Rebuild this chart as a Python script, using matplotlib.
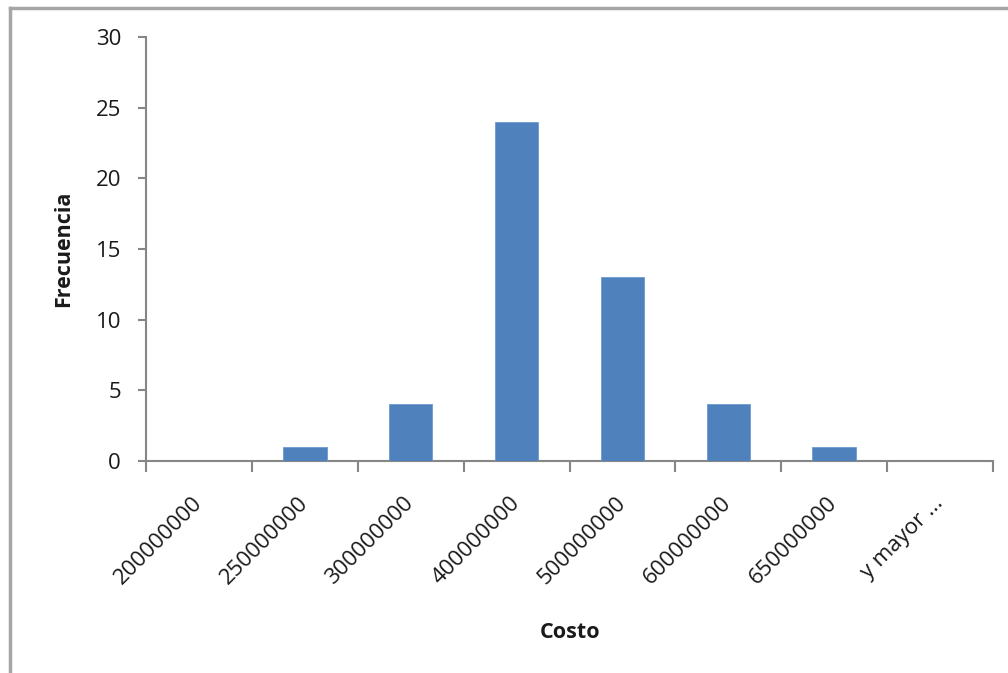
import matplotlib.pyplot as plt
import numpy as np
from matplotlib.lines import Line2D
from matplotlib.transforms import ScaledTranslation

# histogram bins (Excel style) and counts
bins = ["200000000", "250000000", "300000000", "400000000",
        "500000000", "600000000", "650000000", "y mayor ..."]
freq = [0, 1, 4, 24, 13, 4, 1, 0]
yticks = [0, 5, 10, 15, 20, 25, 30]

bar_color = "#4F81BD"
axis_color = "#868686"
text_color = "#1a1a1a"

plt.rcParams['font.family'] = ['Open Sans', 'DejaVu Sans']

fig = plt.figure(figsize=(10.08, 6.73), dpi=100)
ax = fig.add_axes([146 / 1008, 1 - 461 / 673, (993 - 146) / 1008, (461 - 37) / 673])

x = np.arange(len(bins))
ax.bar(x, freq, width=0.41, color=bar_color, edgecolor="#6f9bd0", linewidth=0.6, zorder=3)

ax.set_xlim(-0.5, len(bins) - 0.5)
ax.set_ylim(0, 30)
ax.set_yticks(yticks)
ax.set_yticklabels([str(v) for v in yticks], fontsize=16, color=text_color)

# ticks on category boundaries, labels centered on categories
ax.set_xticks(np.arange(len(bins) + 1) - 0.5)
ax.set_xticklabels([])
ax.set_xticks(x, minor=True)
ax.set_xticklabels(bins, minor=True, rotation=45, ha="right", va="center",
                   rotation_mode="anchor", fontsize=16, color=text_color)
shift = ScaledTranslation(5 / 100, 0, fig.dpi_scale_trans)
for lbl in ax.get_xticklabels(minor=True):
    lbl.set_transform(lbl.get_transform() + shift)
ax.tick_params(axis="x", which="major", length=8, width=1.5, color=axis_color, direction="out")
ax.tick_params(axis="x", which="minor", length=0, pad=28)
ax.tick_params(axis="y", length=6, width=1.5, color=axis_color, direction="out", pad=12)

for s in ["top", "right"]:
    ax.spines[s].set_visible(False)
for s in ["left", "bottom"]:
    ax.spines[s].set_color(axis_color)
    ax.spines[s].set_linewidth(1.5)

ax.set_ylabel("Frecuencia", fontsize=15.5, fontweight="bold", color=text_color)
ax.yaxis.set_label_coords(-72 / 847, 0.5)
fig.text(570 / 1008, 1 - 633 / 673, "Costo", fontsize=15.5, fontweight="bold",
         color=text_color, ha="center", va="center")

# chart area border (cut off at right and bottom)
fig.add_artist(Line2D([9.5 / 1008, 9.5 / 1008], [0, 1 - 8 / 673], transform=fig.transFigure,
                      color="#a6a6a6", linewidth=2.5))
fig.add_artist(Line2D([9.5 / 1008, 1], [1 - 8 / 673, 1 - 8 / 673], transform=fig.transFigure,
                      color="#a6a6a6", linewidth=2.5))

fig.savefig("out.png", dpi=100)
